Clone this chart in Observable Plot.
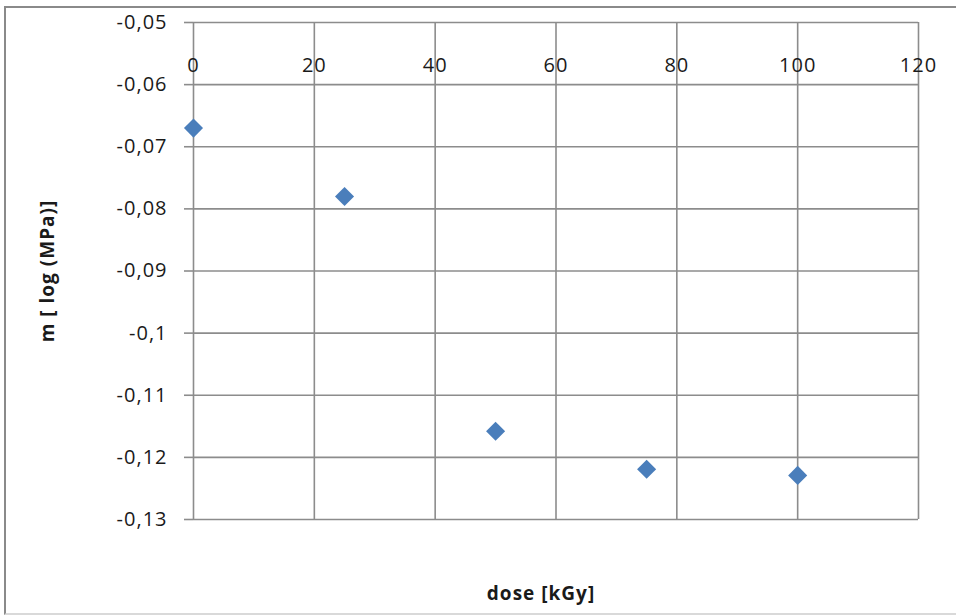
<!DOCTYPE html>
<html>
<head>
<meta charset="utf-8">
<script src="https://cdn.jsdelivr.net/npm/d3@7"></script>
<script src="https://cdn.jsdelivr.net/npm/@observablehq/plot@0.6"></script>
<style>
  html, body { margin: 0; padding: 0; background: #fff; }
  #wrap { position: relative; width: 956px; height: 615px; overflow: hidden; }
  #frame { position: absolute; left: 4px; top: 6px; width: 970px; height: 605px;
           border-left: 2px solid #8a8a8a; border-top: 2px solid #8a8a8a; border-bottom: 2px solid #d9d9d9; }
  #chart { position: absolute; left: 0; top: 0; }
</style>
</head>
<body>
<div id="wrap"><div id="frame"></div><div id="chart"></div></div>
<script>
const doses = [0, 25, 50, 75, 100];
const mValues = [-0.067, -0.078, -0.1158, -0.1219, -0.1229];
const xTicks = [0, 20, 40, 60, 80, 100, 120];
const yTicks = [-0.05, -0.06, -0.07, -0.08, -0.09, -0.1, -0.11, -0.12, -0.13];
const xTitle = "dose [kGy]";
const yTitle = "m [ log (MPa)]";

const data = doses.map((d, i) => ({dose: d, m: mValues[i]}));
const fmt = d3.formatLocale({decimal: ",", thousands: ".", grouping: [3], currency: ["", ""], minus: "-"}).format(".2~f");
const gridColor = "#8c8c8c";

const chart = Plot.plot({
  width: 956,
  height: 615,
  marginLeft: 193,
  marginRight: 38,
  marginTop: 22,
  marginBottom: 96,
  style: {fontFamily: "'Open Sans', sans-serif", fontSize: "20px", letterSpacing: "1px", color: "#1a1a1a", background: "transparent"},
  x: {domain: [0, 120]},
  y: {domain: [-0.13, -0.05]},
  marks: [
    Plot.gridX({ticks: xTicks, stroke: gridColor, strokeOpacity: 1, strokeWidth: 1.6}),
    Plot.gridY({ticks: yTicks, stroke: gridColor, strokeOpacity: 1, strokeWidth: 1.6}),
    Plot.axisY({ticks: yTicks, tickFormat: fmt, tickSize: 9, tickPadding: 17, stroke: gridColor, strokeWidth: 1.6, label: null, fill: "#1a1a1a"}),
    Plot.axisX({ticks: xTicks, anchor: "top", tickSize: 0, tickPadding: 0, dy: 49, label: null, fill: "#1a1a1a"}),
    Plot.dot(data, {x: "dose", y: "m", symbol: "diamond2", r: 8.6, fill: "#4a7ebb", stroke: "none"}),
    Plot.text([xTitle], {frameAnchor: "bottom", textAnchor: "middle", lineAnchor: "middle", dx: -15, dy: 74, fontWeight: "bold", fontSize: 19, fill: "#1a1a1a"}),
    Plot.text([yTitle], {frameAnchor: "left", textAnchor: "middle", lineAnchor: "middle", dx: -146, rotate: -90, fontWeight: "bold", fontSize: 19, fill: "#1a1a1a"})
  ]
});
document.getElementById("chart").appendChild(chart);
</script>
</body>
</html>
